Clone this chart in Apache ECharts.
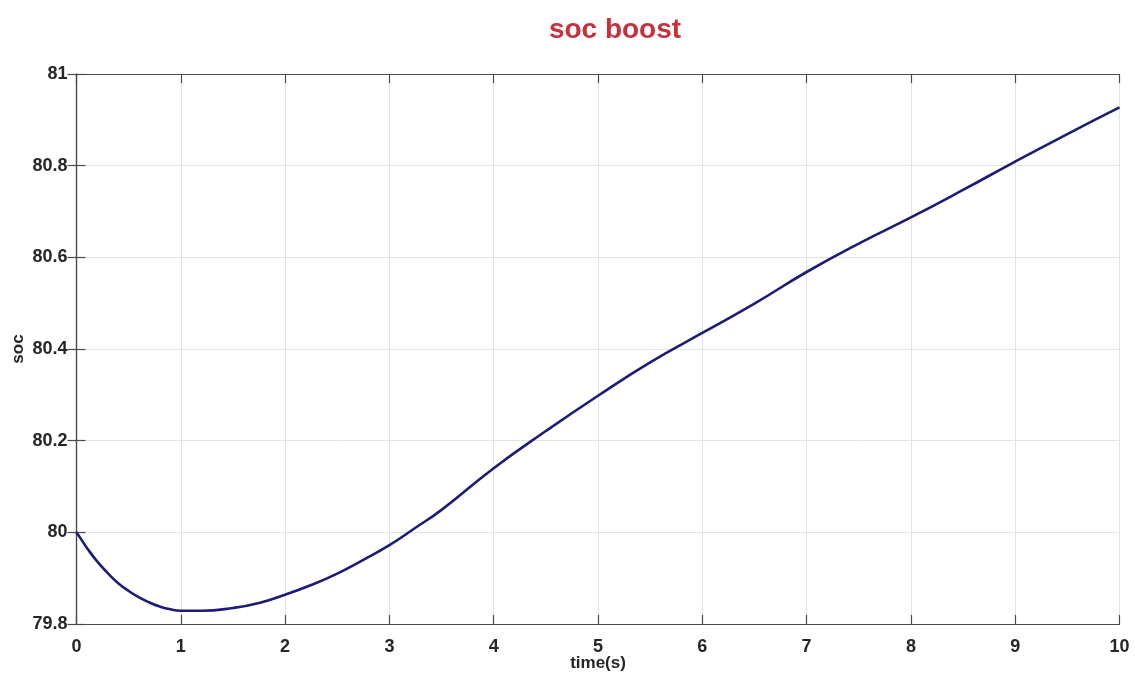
<!DOCTYPE html>
<html>
<head>
<meta charset="utf-8">
<script src="https://cdn.jsdelivr.net/npm/echarts@6/dist/echarts.min.js"></script>
<style>
html,body{margin:0;padding:0;background:#fff;}
#c{width:1135px;height:693px;}
</style>
</head>
<body>
<div id="c"></div>
<script>
var timeS = [0, 0.05, 0.1, 0.2, 0.3, 0.4, 0.5, 0.6, 0.7, 0.8, 0.9, 1.0, 1.2, 1.5, 1.75, 2, 2.25, 2.5, 2.75, 3, 3.25, 3.5, 4, 4.5, 5, 5.5, 6, 6.5, 7, 7.5, 8, 8.5, 9, 9.5, 10];
var socValues = [80.0, 79.983, 79.966, 79.936, 79.911, 79.889, 79.872, 79.858, 79.847, 79.838, 79.832, 79.829, 79.829, 79.835, 79.846, 79.864, 79.885, 79.910, 79.940, 79.972, 80.010, 80.049, 80.140, 80.221, 80.298, 80.371, 80.435, 80.499, 80.568, 80.630, 80.687, 80.747, 80.809, 80.869, 80.927];
var xTicks = [0,1,2,3,4,5,6,7,8,9,10];
var yTicks = ['79.8','80','80.2','80.4','80.6','80.8','81'];

var FONT = '"Liberation Sans", Arial, sans-serif';
var pts = timeS.map(function(t,i){return [t, socValues[i]];});
var chart = echarts.init(document.getElementById('c'), null, {renderer:'canvas'});
var axisLineStyle = {color:'#4a4a4a', width:1.2};
var labelStyle = {color:'#262626', fontFamily:FONT, fontWeight:'bold', fontSize:18};
chart.setOption({
  animation:false,
  backgroundColor:'#ffffff',
  title:{
    text:'soc boost', left:610, top:11, textAlign:'center',
    textStyle:{color:'#c8313c', fontFamily:FONT, fontWeight:'bold', fontSize:28}
  },
  grid:{left:76.5, right:15.5, top:74, bottom:69, containLabel:false, outerBoundsMode:'none'},
  xAxis:[{
    type:'value', min:0, max:10, interval:1,
    name:'time(s)', nameLocation:'middle', nameGap:31, nameMoveOverlap:false,
    nameTextStyle:{color:'#262626', fontFamily:FONT, fontWeight:'bold', fontSize:17},
    axisLine:{show:true, lineStyle:axisLineStyle},
    axisTick:{show:true, inside:true, length:9, lineStyle:axisLineStyle},
    axisLabel:Object.assign({margin:14, formatter:function(v){return String(xTicks[Math.round(v)]);}}, labelStyle),
    splitLine:{show:true, lineStyle:{color:'#e3e3e3', width:1}}
  },{
    type:'value', position:'top', min:0, max:10, interval:1,
    axisLine:{show:true, lineStyle:axisLineStyle},
    axisTick:{show:true, inside:true, length:9, lineStyle:axisLineStyle},
    axisLabel:{show:false}, splitLine:{show:false}
  }],
  yAxis:[{
    type:'value', min:79.8, max:81, interval:0.2,
    name:'soc', nameLocation:'middle', nameGap:50, nameRotate:90, nameMoveOverlap:false,
    nameTextStyle:{color:'#262626', fontFamily:FONT, fontWeight:'bold', fontSize:17},
    axisLine:{show:true, lineStyle:axisLineStyle},
    axisTick:{show:true, inside:true, length:9, lineStyle:axisLineStyle},
    axisLabel:Object.assign({margin:9, formatter:function(v){
      var idx = Math.round((v-79.8)/0.2); return yTicks[idx] !== undefined ? yTicks[idx] : '';
    }}, labelStyle),
    splitLine:{show:true, lineStyle:{color:'#e3e3e3', width:1}}
  },{
    type:'value', position:'right', min:79.8, max:81, interval:0.2,
    axisLine:{show:true, lineStyle:axisLineStyle},
    axisTick:{show:true, inside:true, length:9, lineStyle:axisLineStyle},
    axisLabel:{show:false}, splitLine:{show:false}
  }],
  series:[{
    type:'line', data:pts, smooth:0.5, showSymbol:false,
    lineStyle:{color:'#1c1c78', width:2.6}, z:5
  }]
});
</script>
</body>
</html>
